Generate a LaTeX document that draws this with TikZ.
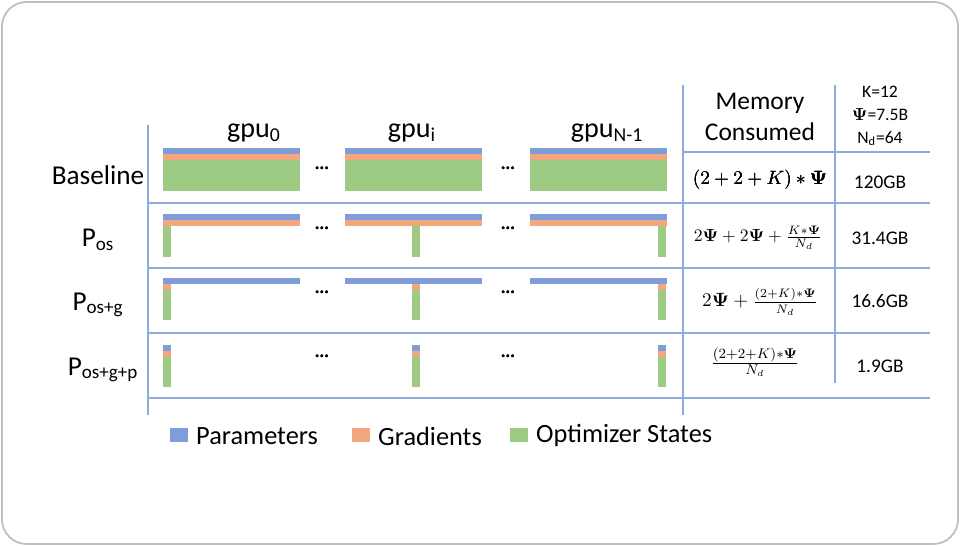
\documentclass[tikz,border=0pt]{standalone}
\usepackage{amsmath}
\usepackage{amssymb}
\usepackage{bm}
\usepackage{fontspec}
\setmainfont{Carlito}
\usetikzlibrary{positioning,calc}
\definecolor{parblue}{HTML}{7F9ED9}
\definecolor{gradorange}{HTML}{F2A77E}
\definecolor{optgreen}{HTML}{9DCB83}
\definecolor{gridblue}{HTML}{8FAADC}
\tikzset{
grid/.style = {draw=gridblue, line width=0.6pt},
par/.style = {fill=parblue},
grad/.style = {fill=gradorange},
opt/.style = {fill=optgreen},
rowlabel/.style = {font=\fontsize{15.5}{19}\selectfont},
gpulabel/.style = {font=\fontsize{16}{19}\selectfont},
leglabel/.style = {font=\fontsize{15}{18}\selectfont},
cell/.style = {font=\fontsize{11}{13}\selectfont, inner sep=1pt},
dots/.style = {font=\bfseries}
}
% one gpu with everything: left x, top y
\newcommand{\gpufull}[2]{%
\fill[par] (#1,#2) rectangle ++(137,6);
\fill[grad] (#1,#2+6) rectangle ++(137,6);
\fill[opt] (#1,#2+12) rectangle ++(137,31);}
\begin{document}
\begin{tikzpicture}[x=0.02cm,y=-0.02cm]
\useasboundingbox (0,0) rectangle (960,546);
\draw[gray!50, line width=1pt, rounded corners=14] (2,2) rectangle (958,544);
% grid
\draw[grid] (148,125) -- (148,415);
\draw[grid] (683,85) -- (683,415);
\draw[grid] (835,85) -- (835,383);
\draw[grid] (683,152) -- (930,152);
\foreach \y in {203,268,333,398} \draw[grid] (148,\y) -- (930,\y);
% headers
\node[gpulabel] (gpu0) at (254,133) {gpu$_\text{0}$};
\node[gpulabel] (gpui) at (412,133) {gpu$_\text{i}$};
\node[gpulabel] (gpun) at (607,133) {gpu$_\text{N-1}$};
\node[font=\fontsize{14.5}{18}\selectfont, align=center] (mem) at (760,117) {Memory\\Consumed};
\node[font=\fontsize{10}{13}\selectfont, align=center, inner sep=0pt] (consts) at (880,116) {K=12\\$\bm\Psi$=7.5B\\N$_\text{d}$=64};
% row labels
\node[rowlabel] (base) at (98,175) {Baseline};
\node[rowlabel] (pos) at (98,240) {P$_\text{os}$};
\node[rowlabel] (posg) at (98,305) {P$_\text{os+g}$};
\node[rowlabel] (posgp) at (103,370) {P$_\text{os+g+p}$};
% bars
\foreach \x in {163,345,530} \gpufull{\x}{148}
\foreach \x/\c in {163/163,345/412,530/658} {
  \fill[par] (\x,214) rectangle ++(137,6);
  \fill[grad] (\x,220) rectangle ++(137,6);
  \fill[opt] (\c,226) rectangle ++(8,31);
  \fill[par] (\x,278) rectangle ++(137,6);
  \fill[grad] (\c,284) rectangle ++(8,6);
  \fill[opt] (\c,290) rectangle ++(8,30);
  \fill[par] (\c,345) rectangle ++(8,6);
  \fill[grad] (\c,351) rectangle ++(8,6);
  \fill[opt] (\c,357) rectangle ++(8,30);
}
\foreach \y [count=\i] in {168,228,292,356} {
  \node[dots] (dl\i) at (322,\y) {...};
  \node[dots] (dr\i) at (508,\y) {...};
}
% formulas
\node[cell] (f1) at (760,180) {$(2+2+K)*\bm\Psi$};
\node[cell, font=\fontsize{10}{12}\selectfont] (f2) at (758,238) {$2\bm\Psi+2\bm\Psi+\frac{K*\bm\Psi}{N_d}$};
\node[cell, font=\fontsize{10.5}{12}\selectfont] (f3) at (760,302) {$2\bm\Psi+\frac{(2+K)*\bm\Psi}{N_d}$};
\node[cell] (f4) at (755,362) {$\frac{(2+2+K)*\bm\Psi}{N_d}$};
\node[cell] (g1) at (880,182) {120GB};
\node[cell] (g2) at (880,238) {31.4GB};
\node[cell] (g3) at (880,301) {16.6GB};
\node[cell] (g4) at (880,366) {1.9GB};
% legend
\fill[par] (170,428) rectangle ++(18,14);
\node[leglabel, anchor=west] (lpar) at (190,436) {Parameters};
\fill[grad] (352,428) rectangle ++(18,14);
\node[leglabel, anchor=west] (lgrad) at (372,436) {Gradients};
\fill[opt] (510,428) rectangle ++(18,14);
\node[leglabel, anchor=west] (lopt) at (530,436) {Optimizer States};
\end{tikzpicture}
\end{document}
